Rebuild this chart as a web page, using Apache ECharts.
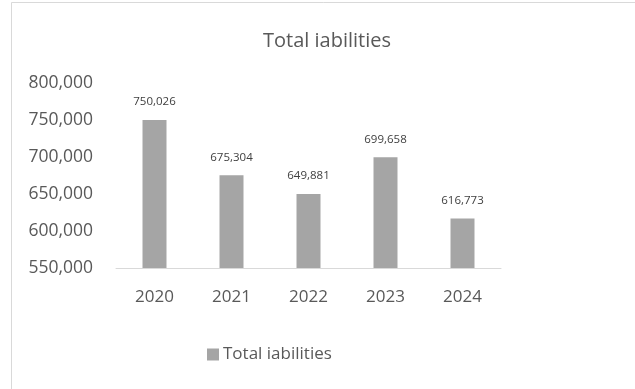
<!DOCTYPE html>
<html>
<head>
<meta charset="utf-8">
<script src="https://cdn.jsdelivr.net/npm/echarts@6/dist/echarts.min.js"></script>
<style>
  html, body { margin: 0; padding: 0; background: #fff; }
  #chart { width: 635px; height: 389px; }
</style>
</head>
<body>
<div id="chart"></div>
<script>
// data
var years = ['2020', '2021', '2022', '2023', '2024'];
var liabilities = [750026, 675304, 649881, 699658, 616773];
var seriesName = 'Total iabilities';

var font = 'Open Sans';
var textColor = '#595959';

var myChart = echarts.init(document.getElementById('chart'));

var option = {
    backgroundColor: '#fff',
    animation: false,
    graphic: [{
        type: 'rect',
        shape: { x: 11.5, y: 2.5, width: 640, height: 400 },
        style: { fill: 'none', stroke: '#d9d9d9', lineWidth: 1 },
        z: -1
    }],
    title: {
        text: seriesName,
        left: 258,
        top: 26,
        textStyle: { fontFamily: font, fontSize: 20, fontWeight: 'normal', color: textColor }
    },
    legend: {
        bottom: 21,
        left: 202,
        icon: 'rect',
        itemWidth: 12,
        itemHeight: 12,
        itemGap: 4,
        data: [seriesName],
        textStyle: { fontFamily: font, fontSize: 17, color: textColor, padding: [0, 0, 0, -1] }
    },
    grid: { left: 116, right: 134, top: 83, bottom: 121 },
    xAxis: {
        type: 'category',
        data: years,
        axisTick: { show: false },
        axisLine: { lineStyle: { color: '#d9d9d9', width: 1 } },
        axisLabel: { fontFamily: font, fontSize: 17, color: textColor, margin: 21 }
    },
    yAxis: {
        type: 'value',
        min: 550000,
        max: 800000,
        interval: 50000,
        splitLine: { show: false },
        axisLine: { show: false },
        axisTick: { show: false },
        axisLabel: {
            fontFamily: font, fontSize: 17.5, color: textColor, margin: 23,
            formatter: function (v) { return v.toLocaleString('en-US'); }
        }
    },
    series: [{
        name: seriesName,
        type: 'bar',
        barWidth: 24,
        data: liabilities,
        itemStyle: { color: '#a5a5a5' },
        label: {
            show: true,
            position: 'top',
            distance: 12,
            fontFamily: font,
            fontSize: 11.5,
            color: '#404040',
            formatter: function (p) { return p.value.toLocaleString('en-US'); }
        }
    }]
};

myChart.setOption(option);
</script>
</body>
</html>
